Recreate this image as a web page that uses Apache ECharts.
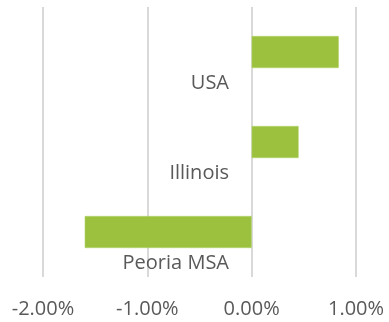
<!DOCTYPE html>
<html>
<head>
<meta charset="utf-8">
<script src="https://cdn.jsdelivr.net/npm/echarts@6/dist/echarts.min.js"></script>
<style>
  html, body { margin: 0; padding: 0; background: #fff; }
  #chart { width: 389px; height: 322px; }
</style>
</head>
<body>
<div id="chart"></div>
<script>
// Regions, listed bottom to top as drawn on the category axis
const regions = ['Peoria MSA', 'Illinois', 'USA'];
// Percent change for each region
const changePct = [-1.60, 0.45, 0.835];
// Value axis range and step (percent)
const axisMin = -2;
const axisMax = 1;
const axisStep = 1;

const chart = echarts.init(document.getElementById('chart'));
chart.setOption({
  animation: false,
  textStyle: { fontFamily: 'Open Sans' },
  grid: { left: 43, right: 33, top: 7, bottom: 45, outerBoundsMode: 'none', containLabel: false },
  xAxis: {
    type: 'value',
    min: axisMin,
    max: axisMax,
    interval: axisStep,
    axisLine: { show: false },
    axisTick: { show: false },
    splitLine: { lineStyle: { color: '#d9d9d9', width: 2 } },
    axisLabel: {
      margin: 22,
      fontSize: 20,
      color: '#595959',
      fontFamily: 'Open Sans',
      formatter: v => v.toFixed(2) + '%'
    }
  },
  yAxis: {
    type: 'category',
    data: regions,
    axisLine: { show: false },
    axisTick: { show: false },
    axisLabel: {
      interval: 0,
      hideOverlap: false,
      // names sit just left of the zero line, under each bar
      margin: -186,
      fontSize: 20,
      verticalAlign: 'top',
      lineHeight: 62,
      color: '#595959',
      fontFamily: 'Open Sans'
    }
  },
  series: [{
    type: 'bar',
    data: changePct,
    barWidth: 32,
    itemStyle: { color: '#9bc13f', borderColor: '#b5d46a', borderWidth: 0.5 }
  }]
});
</script>
</body>
</html>
